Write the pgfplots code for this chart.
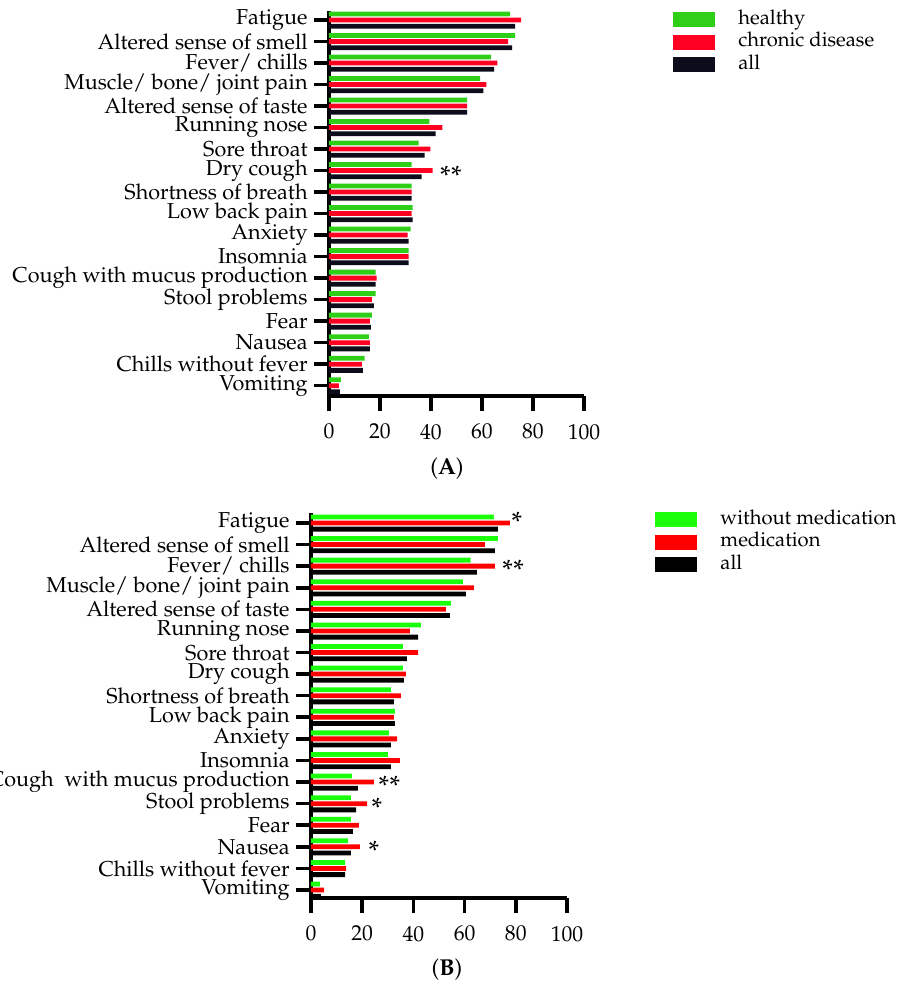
\documentclass[border=0pt]{standalone}
\usepackage[T1]{fontenc}
\usepackage{mathpazo}
\usepackage{pgfplots}
\usepackage{pgfplotstable}
\pgfplotsset{compat=1.18}

\definecolor{healthyA}{HTML}{2ECF16}
\definecolor{chronicA}{HTML}{FF0022}
\definecolor{allA}{HTML}{0C0C1A}
\definecolor{withoutB}{HTML}{1AFF0A}
\definecolor{medB}{HTML}{FF0000}
\definecolor{allB}{HTML}{000000}

% Panel A: share of respondents (%) reporting each symptom; pos 17 = top row
\pgfplotstableread{
pos healthy chronic all
17 71.0 75.3 73.0
16 73.0 70.2 71.8
15 63.6 66.0 64.8
14 59.3 61.7 60.5
13 54.2 54.2 54.2
12 39.4 44.5 41.8
11 35.1 39.8 37.5
10 32.4 40.6 36.3
9  32.4 32.4 32.4
8  32.8 32.4 32.8
7  32.0 30.8 31.2
6  31.2 31.2 31.2
5  18.3 18.7 18.3
4  18.3 16.8 17.6
3  16.8 16.0 16.4
2  15.6 16.0 16.0
1  14.0 12.9 13.3
0  4.7  3.9  4.3
}\symptomsA

% Panel B: same symptoms split by medication
\pgfplotstableread{
pos without medication all
17 71.4 77.7 73.0
16 73.0 67.9 71.8
15 62.4 71.8 64.8
14 59.3 63.6 60.5
13 54.6 52.7 54.2
12 42.9 38.6 41.8
11 35.9 41.8 37.5
10 35.9 37.1 36.3
9  31.2 35.1 32.4
8  32.8 32.4 32.8
7  30.4 33.6 31.2
6  30.0 34.7 31.2
5  16.0 24.6 18.3
4  15.6 21.9 17.6
3  15.6 18.7 16.4
2  14.4 19.1 15.6
1  13.3 13.7 13.3
0  3.5  5.1  3.9
}\symptomsB

\newcommand{\labfont}{\fontsize{10.8}{12}\selectfont}
\newcommand{\legfont}{\fontsize{10.1}{12}\selectfont}
\newcommand{\starfont}{\fontsize{14}{14}\selectfont}

\pgfplotsset{
  symptombars/.style={
    scale only axis,
    anchor=south west,
    xbar, bar width=2.4pt,
    xmin=0, xmax=100,
    xtick={0,20,...,100},
    ytick={0,...,17},
    axis x line=bottom, axis y line=left,
    axis line style={-, line width=1.8pt, black},
    every outer x axis line/.append style={-, line width=1.8pt},
    every outer y axis line/.append style={-, line width=1.8pt},
    tick align=outside,
    major tick length=7.5pt,
    every tick/.style={line width=1.8pt, black},
    major tick style={line width=1.8pt, black},
    font=\labfont,
    yticklabel style={font=\labfont, inner sep=0pt, xshift=-3pt},
    xticklabel style={font=\labfont, yshift=-3pt},
    clip=false,
    legend cell align=left,
    legend image code/.code={\fill[##1] (0pt,-3.75pt) rectangle (21pt,3.75pt);},
    legend style={draw=none, fill=none, inner sep=0pt, anchor=north west,
      font=\legfont, column sep=11.5pt, row sep=0pt,
      nodes={inner sep=0pt, text height=8pt, text depth=3.25pt}},
  },
}

\begin{document}
\begin{tikzpicture}
\useasboundingbox (0pt,0pt) rectangle (449.5pt,-493.5pt);

% ---------------- Panel A ----------------
\begin{axis}[symptombars,
  at={(164.5pt,-198pt)}, width=127.5pt, height=192.65pt,
  ymin=-0.48, ymax=17.43,
  yticklabels={Vomiting, Chills without fever, Nausea, Fear, Stool problems,
    Cough with mucus production, Insomnia, Anxiety, Low back pain,
    Shortness of breath, Dry cough, Sore throat, Running nose,
    Altered sense of taste, Muscle/ bone/ joint pain, Fever/ chills,
    Altered sense of smell, Fatigue},
  legend style={at={(1.349,1.007)}},
]
\addplot[fill=healthyA, draw=none, bar shift=3pt] table[x=healthy, y=pos] {\symptomsA};
\addplot[fill=chronicA, draw=none, bar shift=0pt] table[x=chronic, y=pos] {\symptomsA};
\addplot[fill=allA, draw=none, bar shift=-3.1pt] table[x=all, y=pos] {\symptomsA};
\legend{healthy, chronic disease, all}
\node[anchor=west, inner sep=0pt, xshift=3.5pt, yshift=-2.5pt] at (axis cs:40.6,10) {\starfont **};
\end{axis}

% ---------------- Panel B ----------------
\begin{axis}[symptombars,
  at={(155.5pt,-449pt)}, width=128pt, height=192.5pt,
  ymin=-0.37, ymax=17.46,
  yticklabels={Vomiting, Chills without fever, Nausea, Fear, Stool problems,
    Cough\ \ with mucus production, Insomnia, Anxiety, Low back pain,
    Shortness of breath, Dry cough, Sore throat, Running nose,
    Altered sense of taste, Muscle/ bone/ joint pain, Fever/ chills,
    Altered sense of smell, Fatigue},
  legend style={at={(1.344,1.013)}},
]
\addplot[fill=withoutB, draw=none, bar shift=3pt] table[x=without, y=pos] {\symptomsB};
\addplot[fill=medB, draw=none, bar shift=0pt] table[x=medication, y=pos] {\symptomsB};
\addplot[fill=allB, draw=none, bar shift=-3.1pt] table[x=all, y=pos] {\symptomsB};
\legend{without medication, medication, all}
\node[anchor=west, inner sep=0pt, xshift=0.5pt, yshift=0.5pt] at (axis cs:77.7,17) {\starfont *};
\node[anchor=west, inner sep=0pt, xshift=3.5pt, yshift=-2pt] at (axis cs:71.8,15) {\starfont **};
\node[anchor=west, inner sep=0pt, xshift=2pt, yshift=-2pt] at (axis cs:24.6,5) {\starfont **};
\node[anchor=west, inner sep=0pt, xshift=2pt, yshift=-2pt] at (axis cs:21.9,4) {\starfont *};
\node[anchor=west, inner sep=0pt, xshift=4pt, yshift=-2pt] at (axis cs:19.1,2) {\starfont *};
\end{axis}

\node[font=\fontsize{11.5}{13}\selectfont] at (223.5pt,-234.5pt) {(\textbf{A})};
\node[font=\fontsize{11.5}{13}\selectfont] at (223.5pt,-485pt) {(\textbf{B})};
\end{tikzpicture}
\end{document}
